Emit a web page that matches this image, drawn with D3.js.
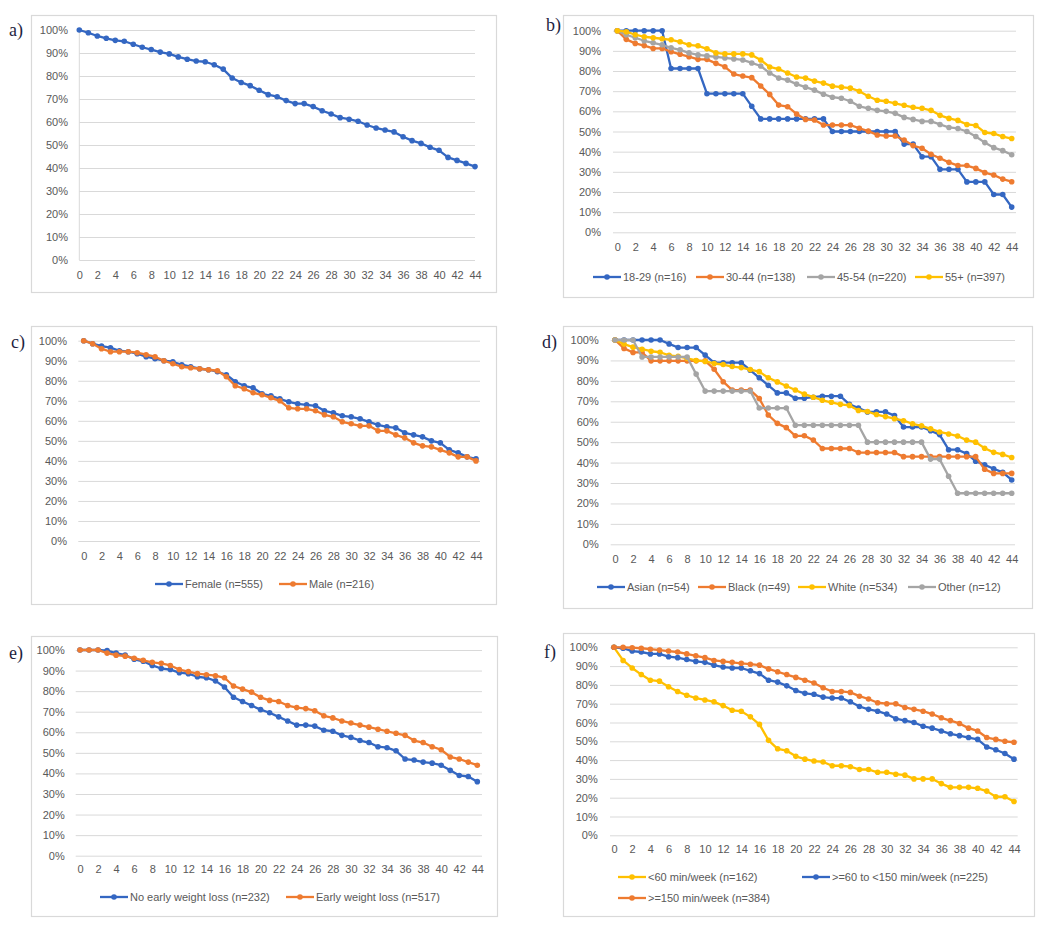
<!DOCTYPE html>
<html><head><meta charset="utf-8">
<script src="https://cdn.jsdelivr.net/npm/d3@7"></script>
<style>
body{margin:0;background:#fff}
svg{display:block}
</style>
</head><body>
<svg id="chart" width="1050" height="926"></svg>
<script>
// ---- data ----
const weeks = [0,1,2,3,4,5,6,7,8,9,10,11,12,13,14,15,16,17,18,19,20,21,22,23,24,25,26,27,28,29,30,31,32,33,34,35,36,37,38,39,40,41,42,43,44];
const xTickLabels = [0,2,4,6,8,10,12,14,16,18,20,22,24,26,28,30,32,34,36,38,40,42,44];
const yTickValues = [0,10,20,30,40,50,60,70,80,90,100];

// a) overall
const overall = [100,98.8,97.4,96.4,95.5,95.1,93.8,92.5,91.5,90.4, 89.6,88.3,87.3,86.5,86.2,84.9,83.0,79.1,77.2,75.8, 73.8,71.9,71.0,69.3,68.0,68.0,66.7,64.9,63.5,61.9, 61.2,60.3,58.7,57.4,56.5,55.7,53.6,51.9,50.7,49.0, 47.7,44.6,43.3,42.0,40.6];

// b) age
const age1829 = [100,100,100,100,100,100,81.25,81.25,81.25,81.25, 68.75,68.75,68.75,68.75,68.75,62.5,56.25,56.25,56.25,56.25, 56.25,56.25,56.25,56.25,50,50,50,50,50,50, 50,50,43.75,43.75,37.5,37.5,31.25,31.25,31.25,25, 25,25,18.75,18.75,12.5];
const age3044 = [100,95.7,93.7,92.6,91.2,91.2,89.6,88.3,87.1,85.8, 85.8,83.8,82.1,78.5,77.5,76.7,72.6,68.4,63.1,62.3, 58.7,56.0,55.7,53.2,53.2,53.2,53.2,51.6,50.2,48.3, 47.8,47.8,45.8,43.0,41.7,38.7,36.7,34.7,33.1,33.1, 31.7,29.6,28.4,26.4,25.1];
const age4554 = [100,98,96.5,95,94,93,91.5,90.5,89,88, 87.5,87,86.5,86,85.5,84,82.5,79,76.5,75.5, 73.5,72,70.5,68.5,67,66.5,65,62.5,61.5,60.5, 60,59,57,56,55,55,53.5,52,51.5,50, 47.5,44.5,42,40.5,38.5];
const age55 = [100,99.5,98,97,96.5,96,95.5,94.5,93,92.5, 91,89,88.5,88.5,88.5,88,85.5,82,81,79, 77,76.5,75,74,72.5,72,71.5,70,67.5,65.5, 65,64,63,62,61.5,60.5,58,56.5,55.5,53.5, 53,49.5,49,47.5,46.5];

// c) sex
const female = [100,98.5,97.3,96.5,95,94.5,93.5,92,91,90, 89.5,88,87,86,85.5,84.5,83,79.5,77.5,76.5, 73.5,72.5,71,69.5,68.5,68,67.5,65,64,62.5, 62,61,59.5,58,57,56.5,54,53,52,50, 49,45.5,44,42,41];
const male = [100,98.5,96,94.5,94.5,94.5,94,93,92,90, 88.5,87,86.5,86,85.5,85,82,77.5,76,74, 73,71.5,70,66.5,66,66,65,63,62,59.5, 58.5,57.5,57.5,55,55,53,51.5,49,47.5,47, 45.5,44,42,42,40];

// d) race
const asian = [100,100,100,100,100,100,98.1,96.3,96.3,96.3, 92.6,88.9,88.9,88.9,88.9,85.2,81.5,77.8,74.1,74.1, 71.5,71.5,72,72.5,72.5,72.5,68.5,66.7,64.8,64.8, 64.8,63.0,57.4,57.4,57.4,55.6,53.7,46.3,46.3,44.4, 40.7,38.9,37.0,35.2,31.5];
const black = [100,95.9,93.9,93.9,89.8,89.8,89.8,89.8,89.8,89.8, 89.8,85.7,79.6,75.5,75.5,75.5,71.4,63.3,59.2,57.1, 53.1,53.1,51.0,46.9,46.9,46.9,46.9,44.9,44.9,44.9, 44.9,44.9,42.9,42.9,42.9,42.9,42.9,42.9,42.9,42.9, 42.9,36.7,34.7,34.7,34.7];
const white = [100,98,96.5,95.5,94.5,94,92.5,92,91,90, 89.5,88.5,88,87,86.5,85.5,84.5,81.5,79.5,77.5, 75.5,73.5,72,70.5,69.5,68.5,68,65.5,65,63.5, 62.5,61.5,60.5,59,58,56.5,55,54,53,51, 50,47,45,44,42.5];
const other = [100,100,100,91.7,91.7,91.7,91.7,91.7,91.7,83.3, 75,75,75,75,75,75,66.7,66.7,66.7,66.7, 58.3,58.3,58.3,58.3,58.3,58.3,58.3,58.3,50,50, 50,50,50,50,50,41.7,41.7,33.3,25,25, 25,25,25,25,25];

// e) early weight loss
const noEarly = [100,100,100,99.7,98.5,97.5,95.5,94.5,92.5,91, 90.5,89,88.5,87,86.5,85,82,77,75,73, 71,69.5,67.5,65.5,63.5,63.5,63,61,60.5,58.5, 57.5,56,55,53,52.5,51,47,46.5,45.5,45, 44,41.5,39,38.5,36];
const early = [100,100,100,98.5,97.5,97,96,95,94,93.5, 92.5,90.5,89.5,88.5,88,87.5,86.5,82.5,81,79.5, 77,75.5,75,73,72,71.5,70.5,68,67,65.5, 64.5,63.5,62.5,61.5,60.5,59.5,58.5,56,55,53, 51.5,48,47,45.5,44];

// f) physical activity
const less60 = [100,93,89,85.5,82.5,82,79,76.5,74.5,73, 72,71,69,66.5,66,63,59,50.5,46,45, 42,40.5,39.5,39,37,37,36.5,35,35,33.5, 33.5,32.5,32,30,30,30,27.5,25.5,25.5,25.5, 25,23.5,20.5,20.5,18];
const mid60150 = [100,99.5,98,97.5,96.5,96.5,95,94.5,93.5,92.5, 92,90.5,89.5,89,89,87.5,86,82.5,81.5,79.5, 77,75.5,75,73.5,73,73,71,68.5,67,66, 64.5,62,61,60,58,57,55.5,54,53,52, 51,47,45.5,43.5,40.5];
const high150 = [100,100,99.8,99.5,99,98.5,98,97.5,96.5,95.5, 94.5,93,92.5,92,91.5,91,90.5,88.5,87,85.5, 84,82.5,81,78.5,76.5,76.5,76,74,72.5,70.5, 70,70,68,67,66,64.5,62.5,61,59.5,57, 55.5,52,51,50,49.5];

// ---- styles ----
const BLUE = '#3467C2', ORANGE = '#EE7B30', GRAY = '#A5A5A5', YELLOW = '#FFC000';
const FONT = '"Liberation Sans", Arial, sans-serif';
const TXT = '#595959', GRID = '#D9D9D9';

const panels = [
  {label:'a)', lab:[9,36], frame:[31,15,496,292], x:[79.3,475], y:[260,30], grid:[79.3,475], yAxisLine:true, yPad:11.3, xPad:11,
   series:[{values:overall,color:BLUE}], legend:[]},
  {label:'b)', lab:[546,31], frame:[563,15,1033,297], x:[617.3,1011.7], y:[232.3,30.7], grid:[613,1016], yPad:12, xPad:11,
   series:[{name:'18-29 (n=16)',values:age1829,color:BLUE},{name:'30-44 (n=138)',values:age3044,color:ORANGE},{name:'45-54 (n=220)',values:age4554,color:GRAY},{name:'55+ (n=397)',values:age55,color:YELLOW}],
   legend:[[593,277],[696,277],[807,277],[915,277]]},
  {label:'c)', lab:[11,348], frame:[31,326,496,604], x:[83.7,476], y:[541,340.7], grid:[78.3,480], yPad:11.3, xPad:11,
   series:[{name:'Female (n=555)',values:female,color:BLUE},{name:'Male (n=216)',values:male,color:ORANGE}],
   legend:[[155,584],[279,584]]},
  {label:'d)', lab:[542,348], frame:[563,326,1032,608], x:[615,1011.7], y:[544.3,340], grid:[610.7,1015], yPad:12, xPad:11,
   series:[{name:'Asian (n=54)',values:asian,color:BLUE},{name:'Black (n=49)',values:black,color:ORANGE},{name:'White (n=534)',values:white,color:YELLOW},{name:'Other (n=12)',values:other,color:GRAY}],
   legend:[[597,587],[698,587],[798,587],[908,587]]},
  {label:'e)', lab:[9,659], frame:[31,636,497,916], x:[80,477.3], y:[855.7,650], grid:[75.7,482], yPad:11, xPad:9.5,
   series:[{name:'No early weight loss (n=232)',values:noEarly,color:BLUE},{name:'Early weight loss (n=517)',values:early,color:ORANGE}],
   legend:[[100,897],[286,897]]},
  {label:'f)', lab:[544,658], frame:[563,633,1034,916], x:[614,1014], y:[835.3,647.3], grid:[610,1017.7], yPad:12.3, xPad:10,
   series:[{name:'<60 min/week (n=162)',values:less60,color:YELLOW},{name:'>=60 to <150 min/week (n=225)',values:mid60150,color:BLUE},{name:'>=150 min/week (n=384)',values:high150,color:ORANGE}],
   legend:[[618,877],[802,877],[618,898]]}
];

const svg = d3.select('#chart');
svg.append('rect').attr('width',1050).attr('height',926).attr('fill','#fff');

panels.forEach(p => {
  const g = svg.append('g');
  const [fx0,fy0,fx1,fy1] = p.frame;
  g.append('rect').attr('x',fx0+0.5).attr('y',fy0+0.5).attr('width',fx1-fx0).attr('height',fy1-fy0)
    .attr('fill','#fff').attr('stroke','#D9D9D9').attr('stroke-width',1.2);

  const x = d3.scaleLinear().domain([0,44]).range(p.x);
  const y = d3.scaleLinear().domain([0,100]).range(p.y);

  // y axis with gridlines
  const gw = p.grid[1]-p.grid[0];
  const yAx = g.append('g').attr('transform',`translate(${p.grid[0]},0)`)
    .call(d3.axisLeft(y).tickValues(yTickValues).tickFormat(d=>d+'%').tickSize(-gw).tickPadding(p.yPad));
  yAx.select('.domain').remove();
  yAx.selectAll('line').attr('stroke',GRID).attr('stroke-width',1);
  yAx.selectAll('text').attr('fill',TXT).style('font-family',FONT).style('font-size','11px');

  if (p.yAxisLine) {
    g.append('line').attr('x1',p.grid[0]).attr('x2',p.grid[0]).attr('y1',p.y[1]).attr('y2',p.y[0])
      .attr('stroke',GRID).attr('stroke-width',1);
  }

  // x axis labels
  const xAx = g.append('g').attr('transform',`translate(0,${p.y[0]})`)
    .call(d3.axisBottom(x).tickValues(xTickLabels).tickFormat(d=>d).tickSize(0).tickPadding(p.xPad));
  xAx.select('.domain').remove();
  xAx.selectAll('text').attr('fill',TXT).style('font-family',FONT).style('font-size','11px');

  // series
  const line = d3.line().x((d,i)=>x(weeks[i])).y(d=>y(d));
  p.series.forEach(s => {
    const sg = g.append('g');
    sg.append('path').datum(s.values).attr('d',line).attr('fill','none')
      .attr('stroke',s.color).attr('stroke-width',2.3).attr('stroke-linejoin','round');
    sg.selectAll('circle').data(s.values).join('circle')
      .attr('cx',(d,i)=>x(weeks[i])).attr('cy',d=>y(d)).attr('r',2.8).attr('fill',s.color);
  });

  // legend
  p.legend.forEach((pos,i) => {
    const s = p.series[i];
    const lg = g.append('g').attr('transform',`translate(${pos[0]},${pos[1]})`);
    lg.append('line').attr('x1',0).attr('x2',28).attr('y1',0).attr('y2',0).attr('stroke',s.color).attr('stroke-width',2.3);
    lg.append('circle').attr('cx',14).attr('cy',0).attr('r',2.8).attr('fill',s.color);
    lg.append('text').attr('x',30).attr('y',0).attr('dy','0.35em').attr('fill',TXT)
      .style('font-family',FONT).style('font-size','11px').text(s.name);
  });

  // panel label
  svg.append('text').attr('x',p.lab[0]).attr('y',p.lab[1]).attr('fill','#1F1F3F')
    .style('font-family','"Liberation Serif", "Times New Roman", serif').style('font-size','18px').text(p.label);
});
</script>
</body></html>
